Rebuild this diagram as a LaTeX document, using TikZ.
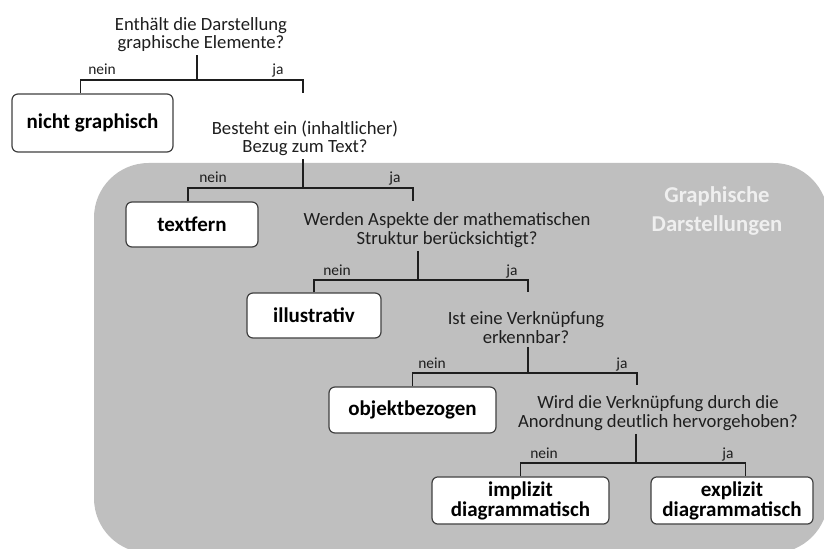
\documentclass[tikz,border=0pt]{standalone}
\usepackage{fontspec}
\setmainfont{Carlito}
\usetikzlibrary{positioning}

\definecolor{areagray}{HTML}{BFBFBF}
\definecolor{titlegray}{HTML}{EFEFEF}
\definecolor{textdark}{HTML}{1E1E1E}
\definecolor{boxline}{HTML}{404040}

\begin{document}
\begin{tikzpicture}[x=0.75pt, y=-0.75pt]
    \tikzstyle{question} = [align=center, inner sep=2.5pt, text=textdark, font=\fontsize{14}{13.7}\selectfont]
    \tikzstyle{answer} = [anchor=base, inner sep=0pt, text=textdark, font=\fontsize{11.6}{12}\selectfont]
    \tikzstyle{category} = [draw=boxline, line width=0.9pt, rounded corners=4.5pt, fill=white, align=center, text=black, font=\bfseries\fontsize{15.75}{15}\selectfont]
    \tikzstyle{branch} = [draw=textdark, line width=0.8pt]
    \tikzstyle{stemline} = [draw=textdark, line width=1.3pt]
    \useasboundingbox (0,0) rectangle (824,549);
    \clip (0,0) rectangle (824,549);
    % Bereich der graphischen Darstellungen
    \fill[areagray, rounded corners=41pt] (94,163) rectangle (828,553);
    \node[align=center, text=titlegray, font=\bfseries\fontsize{17}{21.5}\selectfont] (titel) at (717,211) {Graphische\\Darstellungen};
    % Fragen
    \node[question] (q1) at (201,34.5) {Enthält die Darstellung\\graphische Elemente?};
    \node[question] (q2) at (305,138) {Besteht ein (inhaltlicher)\\Bezug zum Text?};
    \node[question] (q3) at (447,230) {Werden Aspekte der mathematischen\\Struktur berücksichtigt?};
    \node[question] (q4) at (526,327.5) {Ist eine Verknüpfung\\erkennbar?};
    \node[question] (q5) at (658,413) {Wird die Verknüpfung durch die\\Anordnung deutlich hervorgehoben?};
    % Kategorien
    \node[category, minimum width=120.75pt, minimum height=43.5pt] (b1) at (92.5,123) {nicht graphisch};
    \node[category, minimum width=99pt, minimum height=33.75pt] (b2) at (192,224.5) {textfern};
    \node[category, minimum width=100.5pt, minimum height=33.75pt] (b3) at (314,315.5) {illustrativ};
    \node[category, minimum width=125.25pt, minimum height=34.5pt] (b4) at (412.5,410) {objektbezogen};
    \node[category, minimum width=132.75pt, minimum height=35.25pt] (b5) at (520.5,500.5) {implizit\\diagrammatisch};
    \node[category, minimum width=121.5pt, minimum height=35.25pt] (b6) at (732,500.5) {explizit\\diagrammatisch};
    % Verzweigungen
    \coordinate (k1) at (197,80);  \coordinate (r1) at (303,93);
    \coordinate (k2) at (303,188); \coordinate (r2) at (413,201);
    \coordinate (k3) at (418,280); \coordinate (r3) at (528,292);
    \coordinate (k4) at (528,373); \coordinate (r4) at (637,385);
    \coordinate (k5) at (636,463);
    \draw[stemline] (q1.south -| k1) -- (k1);
    \draw[branch] ([xshift=-9pt]b1.north) |- (k1) -| (r1);
    \draw[stemline] (q2.south -| k2) -- (k2);
    \draw[branch] ([xshift=-3pt]b2.north) |- (k2) -| (r2);
    \draw[stemline] (q3.south -| k3) -- (k3);
    \draw[branch] (b3.north) |- (k3) -| (r3);
    \draw[stemline] (q4.south -| k4) -- (k4);
    \draw[branch] (b4.north) |- (k4) -| (r4);
    \draw[stemline] (q5.south -| k5) -- (k5);
    \draw[branch] (b5.north) |- (k5) -| ([xshift=10pt]b6.north);
    % nein / ja
    \foreach \id/\xn/\xj/\yl in {1/102/278/75, 2/213/395/182, 3/337/512/275, 4/432/622/368, 5/544/728/458}
    {
        \node[answer] (nein\id) at (\xn,\yl) {nein};
        \node[answer] (ja\id) at (\xj,\yl) {ja};
    }
\end{tikzpicture}
\end{document}
